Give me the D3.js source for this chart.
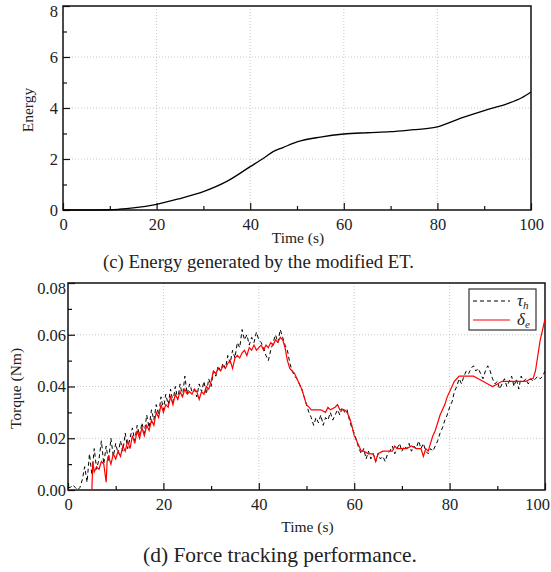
<!DOCTYPE html>
<html>
<head>
<script src="https://d3js.org/d3.v7.min.js"></script>
<style>
  body { margin: 0; background: #fff; }
  svg text { font-family: "Liberation Serif", "Times New Roman", serif; fill: #222; }
</style>
</head>
<body>
<div id="container"></div>
<script>
// ---- data ----
// (c) energy over time
const energyTime  = [0, 5, 10, 12, 15, 20, 25, 30, 35, 40, 43, 45, 47, 50, 55, 60, 65, 70, 75, 78, 80, 85, 90, 95, 98, 100];
const energyValue = [0, 0, 0.01, 0.03, 0.08, 0.22, 0.45, 0.72, 1.12, 1.7, 2.05, 2.3, 2.45, 2.67, 2.86, 2.98, 3.03, 3.07, 3.15, 3.2, 3.26, 3.6, 3.9, 4.17, 4.4, 4.63];
const energyXTicks = [0, 20, 40, 60, 80, 100];
const energyYTicks = [0, 2, 4, 6, 8];

// (d) torque: tau_h (black dashed), sampled every 0.5 s
const tauTime = d3.range(0, 100.01, 0.5);
const tauValue = [
  0.001,0.001,0.002,0.001,0.000,0.001,0.004,0.009,0.003,0.014,
  0.006,0.016,0.008,0.012,0.019,0.010,0.017,0.011,0.020,0.013,
  0.018,0.014,0.019,0.015,0.022,0.016,0.020,0.024,0.019,0.025,
  0.021,0.026,0.022,0.029,0.024,0.031,0.027,0.033,0.029,0.036,
  0.031,0.037,0.033,0.039,0.034,0.040,0.035,0.041,0.036,0.044,
  0.037,0.041,0.038,0.039,0.036,0.041,0.038,0.042,0.037,0.043,
  0.040,0.046,0.044,0.048,0.046,0.049,0.047,0.052,0.049,0.054,
  0.051,0.057,0.055,0.062,0.058,0.060,0.056,0.059,0.057,0.061,
  0.058,0.057,0.055,0.052,0.050,0.054,0.057,0.060,0.057,0.062,
  0.059,0.056,0.054,0.049,0.046,0.044,0.043,0.041,0.039,0.036,
  0.033,0.030,0.028,0.025,0.028,0.026,0.029,0.025,0.028,0.027,
  0.030,0.027,0.029,0.031,0.029,0.032,0.030,0.031,0.027,0.024,
  0.022,0.019,0.016,0.014,0.016,0.012,0.015,0.012,0.014,0.011,
  0.014,0.012,0.013,0.011,0.014,0.015,0.017,0.014,0.016,0.018,
  0.015,0.017,0.016,0.018,0.015,0.017,0.016,0.019,0.016,0.018,
  0.015,0.014,0.016,0.015,0.017,0.019,0.022,0.024,0.027,0.029,
  0.032,0.034,0.038,0.040,0.043,0.041,0.044,0.046,0.045,0.047,
  0.048,0.046,0.047,0.045,0.043,0.046,0.048,0.046,0.043,0.041,
  0.042,0.039,0.041,0.043,0.040,0.042,0.044,0.040,0.043,0.039,
  0.044,0.042,0.043,0.041,0.043,0.042,0.043,0.044,0.043,0.044,
  0.046
];

// (d) torque: delta_e (red solid)
const deltaTime = [0,5,5.2,5.5,6,6.5,7,7.5,8,8.2,8.5,9,9.5,10,10.5,11,11.5,12,12.5,13,13.5,14,14.5,15,15.5,16,16.5,17,17.5,18,18.5,19,19.5,20,
  20.5,21,21.5,22,22.5,23,23.5,24,24.5,25,25.5,26,26.5,27,27.5,28,28.5,29,29.5,30,30.5,31,31.5,32,32.5,33,33.5,34,34.5,35,35.5,36,36.5,37,37.5,38,38.5,39,39.5,40,
  40.5,41,41.5,42,42.5,43,43.5,44,44.5,45,45.5,46,46.5,47,47.5,48,48.5,49,49.5,50,50.5,51,52,53,54,54.5,55,56,56.5,57,58,58.5,59,59.5,60,
  60.5,61,61.5,62,63,64,64.5,65,66,67,68,68.5,69,70,71,72,73,74,74.5,75,75.5,76,76.5,77,77.5,78,78.5,79,79.5,80,
  80.5,81,81.5,82,83,84,85,86,87,88,89,90,91,92,93,94,95,96,97,97.5,98,98.5,99,99.5,100];
const deltaValue = [0,0,0.011,0.007,0.009,0.008,0.011,0.010,0.003,0.011,0.013,0.010,0.014,0.012,0.015,0.013,0.017,0.015,0.019,0.016,0.021,0.018,0.023,0.020,0.024,0.021,0.025,0.023,0.027,0.025,0.030,0.028,0.033,0.030,
  0.033,0.032,0.036,0.033,0.037,0.035,0.038,0.036,0.039,0.037,0.038,0.037,0.039,0.038,0.035,0.038,0.037,0.040,0.039,0.042,0.046,0.045,0.047,0.046,0.048,0.047,0.049,0.050,0.047,0.051,0.052,0.051,0.053,0.054,0.052,0.055,0.054,0.056,0.054,0.055,
  0.056,0.054,0.056,0.055,0.057,0.056,0.058,0.057,0.059,0.058,0.055,0.050,0.047,0.046,0.045,0.043,0.041,0.039,0.036,0.033,0.032,0.031,0.031,0.031,0.030,0.032,0.031,0.032,0.033,0.031,0.031,0.030,0.028,0.025,0.021,
  0.019,0.017,0.015,0.015,0.014,0.014,0.011,0.014,0.015,0.015,0.015,0.017,0.016,0.016,0.016,0.017,0.016,0.016,0.013,0.016,0.015,0.018,0.021,0.023,0.026,0.029,0.031,0.033,0.036,0.038,
  0.040,0.042,0.043,0.044,0.044,0.044,0.044,0.043,0.042,0.041,0.040,0.041,0.042,0.042,0.042,0.042,0.042,0.042,0.043,0.043,0.046,0.052,0.058,0.062,0.066];
const torqueXTicks = [0, 20, 40, 60, 80, 100];
const torqueYTicks = [0, 0.02, 0.04, 0.06, 0.08];

const W = 551, H = 572;
const FONT = '"Liberation Serif", "Times New Roman", serif';
const svg = d3.select("#container").append("svg")
  .attr("width", W).attr("height", H);

// draws one framed panel with grid, inward ticks, labels
function panel(box, xDomain, yDomain, xTicks, yTicks, yFmt, yLabel) {
  const x = d3.scaleLinear().domain(xDomain).range([box.left, box.right]);
  const y = d3.scaleLinear().domain(yDomain).range([box.bottom, box.top]);
  const g = svg.append("g");

  // dotted grid
  g.selectAll(".gx").data(xTicks.slice(1, -1)).enter().append("line")
    .attr("x1", d => x(d)).attr("x2", d => x(d))
    .attr("y1", box.top).attr("y2", box.bottom)
    .attr("stroke", "#c8c8c8").attr("stroke-dasharray", "1,2");
  g.selectAll(".gy").data(yTicks.slice(1, -1)).enter().append("line")
    .attr("y1", d => y(d)).attr("y2", d => y(d))
    .attr("x1", box.left).attr("x2", box.right)
    .attr("stroke", "#c8c8c8").attr("stroke-dasharray", "1,2");

  // axes with inward ticks
  const xStep = xTicks[1] - xTicks[0], yStep = yTicks[1] - yTicks[0];
  const xMinor = d3.range(xDomain[0] + xStep / 2, xDomain[1], xStep);
  const yMinor = d3.range(yDomain[0] + yStep / 2, yDomain[1], yStep);
  const xa = g.append("g").attr("transform", "translate(0," + box.bottom + ")")
    .call(d3.axisBottom(x).tickValues(xTicks).tickSizeInner(-7).tickSizeOuter(0).tickPadding(8));
  g.append("g").attr("transform", "translate(0," + box.bottom + ")")
    .call(d3.axisBottom(x).tickValues(xMinor).tickSizeInner(-4).tickSizeOuter(0).tickFormat(""));
  const ya = g.append("g").attr("transform", "translate(" + box.left + ",0)")
    .call(d3.axisLeft(y).tickValues(yTicks).tickFormat(yFmt).tickSizeInner(-7).tickSizeOuter(0).tickPadding(box.yPad));
  g.append("g").attr("transform", "translate(" + box.left + ",0)")
    .call(d3.axisLeft(y).tickValues(yMinor).tickSizeInner(-4).tickSizeOuter(0).tickFormat(""));
  g.selectAll(".tick line").attr("stroke", "#111").attr("stroke-width", 1.2);
  g.selectAll(".domain").remove();
  g.selectAll(".tick text").style("font-size", "16.5px").style("font-family", FONT).attr("fill", "#222");

  // frame
  g.append("rect")
    .attr("x", box.left).attr("y", box.top)
    .attr("width", box.right - box.left).attr("height", box.bottom - box.top)
    .attr("fill", "none").attr("stroke", "#111").attr("stroke-width", 1.5);

  // axis titles
  g.append("text")
    .attr("x", (box.left + box.right) / 2 + 1).attr("y", box.bottom + box.titleDy)
    .attr("text-anchor", "middle").style("font-size", "15.5px")
    .text("Time (s)");
  g.append("text")
    .attr("transform", "translate(" + box.yLabelX + "," + ((box.top + box.bottom) / 2 + 2) + ") rotate(-90)")
    .attr("text-anchor", "middle").style("font-size", "15.5px")
    .text(yLabel);

  return {x, y, g, xa, ya};
}

// caption sized to the width it has in the reference
function caption(text, cx, baseline, width) {
  const t = svg.append("text").attr("x", cx).attr("y", baseline)
    .attr("text-anchor", "middle").style("font-size", "20px").text(text);
  const len = t.node().getComputedTextLength();
  t.style("font-size", (20 * width / len).toFixed(2) + "px");
}

// ---- panel (c) ----
const c = panel({left: 63, right: 531, top: 6, bottom: 210, yPad: 5, yLabelX: 33, titleDy: 33},
  [0, 100], [0, 8], energyXTicks, energyYTicks, d3.format("d"), "Energy");
// top label sits lower so it is not cut by the page edge
c.ya.selectAll(".tick text").filter(d => d === 8).attr("dy", "0.65em");

const energyLine = d3.line().x((d, i) => c.x(energyTime[i])).y(d => c.y(d)).curve(d3.curveMonotoneX);
c.g.append("path").datum(energyValue)
  .attr("d", energyLine).attr("fill", "none").attr("stroke", "#000").attr("stroke-width", 1.3);

caption("(c) Energy generated by the modified ET.", 258.5, 268, 311);

// ---- panel (d) ----
const dp = panel({left: 68, right: 545, top: 283, bottom: 490, yPad: 2, yLabelX: 21, titleDy: 42},
  [0, 100], [0, 0.08], torqueXTicks, torqueYTicks, d3.format(".2f"), "Torque (Nm)");
dp.xa.selectAll(".tick text").filter(d => d === 100).attr("dx", "-8px");
dp.ya.selectAll(".tick text").filter(d => d === 0.08).attr("dy", "0.62em");

dp.g.append("clipPath").attr("id", "clipd").append("rect")
  .attr("x", 68).attr("y", 283).attr("width", 477).attr("height", 207);

const tauLine = d3.line().x((d, i) => dp.x(tauTime[i])).y(d => dp.y(d));
const deltaLine = d3.line().x((d, i) => dp.x(deltaTime[i])).y(d => dp.y(d));

dp.g.append("path").datum(tauValue).attr("clip-path", "url(#clipd)")
  .attr("d", tauLine).attr("fill", "none").attr("stroke", "#000")
  .attr("stroke-width", 1).attr("stroke-dasharray", "4,3");
dp.g.append("path").datum(deltaValue).attr("clip-path", "url(#clipd)")
  .attr("d", deltaLine).attr("fill", "none").attr("stroke", "#ff0000").attr("stroke-width", 1.2);

// legend
const lg = dp.g.append("g").attr("transform", "translate(469,289)");
lg.append("rect").attr("width", 67).attr("height", 41)
  .attr("fill", "#fff").attr("stroke", "#333").attr("stroke-width", 1.2);
lg.append("line").attr("x1", 4).attr("x2", 41).attr("y1", 12).attr("y2", 12)
  .attr("stroke", "#000").attr("stroke-dasharray", "4,3");
lg.append("line").attr("x1", 4).attr("x2", 41).attr("y1", 31).attr("y2", 31)
  .attr("stroke", "#ff0000").attr("stroke-width", 1.2);
const t1 = lg.append("text").attr("x", 48).attr("y", 17).style("font-size", "17px").style("font-style", "italic");
t1.append("tspan").text("τ");
t1.append("tspan").attr("dy", 3).style("font-size", "11px").text("h");
const t2 = lg.append("text").attr("x", 48).attr("y", 36).style("font-size", "17px").style("font-style", "italic");
t2.append("tspan").text("δ");
t2.append("tspan").attr("dy", 3).style("font-size", "11px").text("e");

caption("(d) Force tracking performance.", 280, 562, 274);
</script>
</body>
</html>
